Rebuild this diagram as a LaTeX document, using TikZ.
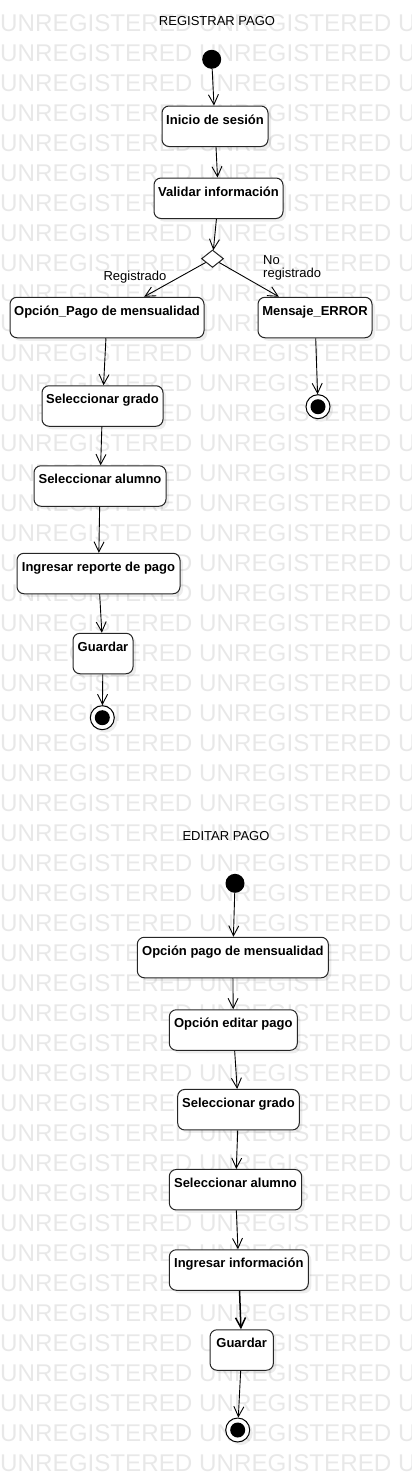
\documentclass[tikz,border=0pt]{standalone}
\usepackage{fontspec}
\setmainfont{Liberation Sans}
\usetikzlibrary{arrows.meta,shapes.geometric,shadows}
\begin{document}
\begin{tikzpicture}[x=1pt,y=-1pt,
  wm/.style={anchor=base west, inner sep=0pt, text=black!9, font=\fontsize{24.2}{26}\selectfont},
  ttl/.style={anchor=base, inner sep=0pt, font=\fontsize{13}{15}\selectfont},
  lbl/.style={inner sep=0pt, font=\fontsize{13}{13}\selectfont},
  act/.style={draw=black!85, line width=1pt, rounded corners=7pt, fill=white,
    font=\fontsize{13}{15}\selectfont\bfseries, inner xsep=3pt, inner ysep=0pt,
    text height=18pt, text depth=22.5pt, minimum height=40.5pt,
    drop shadow={shadow xshift=3pt, shadow yshift=-3pt, fill=black, opacity=0.07}},
  initnode/.style={circle, fill=black, minimum size=19pt, inner sep=0pt},
  finalnode/.style={circle, draw=black, line width=1pt, fill=white, minimum size=24pt, inner sep=0pt,
    drop shadow={shadow xshift=3pt, shadow yshift=-3pt, fill=black, opacity=0.07},
    path picture={\fill[black] (path picture bounding box.center) circle (7.5pt);}},
  decision/.style={diamond, draw=black!85, line width=1pt, fill=white, minimum width=22pt, minimum height=17.5pt, inner sep=0pt},
  flow/.style={draw=black, line width=0.9pt, -{Straight Barb[length=10pt,width=10pt]}}
]
\useasboundingbox (0,0) rectangle (412,1483);
\begin{scope}
\clip (0,0) rectangle (412,1483);
\foreach \k in {0,...,48}{
  \node[wm] (wm\k) at (0,{31.5+30*\k}) {UNREGISTERED UNREGISTERED U};
}
\end{scope}

% ---------- REGISTRAR PAGO ----------
\node[ttl] (t1) at (217,25) {REGISTRAR PAGO};
\node[initnode] (i1) at (211.7,59.3) {};
\node[act, minimum width=106pt] (inicio) at (215,126.25) {Inicio de sesión};
\node[act, minimum width=129pt] (validar) at (218.5,198.25) {Validar información};
\node[decision] (dec) at (212.5,258.7) {};
\node[act, minimum width=194pt] (opcion) at (107,317.5) {Opción\_Pago de mensualidad};
\node[act, minimum width=114pt] (error) at (315,317.5) {Mensaje\_ERROR};
\node[finalnode] (f0) at (318,406.7) {};
\node[act, minimum width=121pt] (grado1) at (102.5,406) {Seleccionar grado};
\node[act, minimum width=132pt] (alumno1) at (100,486) {Seleccionar alumno};
\node[act, minimum width=163pt] (reporte) at (98.5,573.5) {Ingresar reporte de pago};
\node[act, minimum width=60pt] (guardar1) at (103,653.5) {Guardar};
\node[finalnode] (f1) at (102.3,717.7) {};

\node[lbl, anchor=base] (lreg) at (135,280.5) {Registrado};
\node[lbl, anchor=base west] (lno1) at (263,264.5) {No};
\node[lbl, anchor=base west] (lno2) at (263,277.5) {registrado};

\draw[flow] (i1) -- (inicio);
\draw[flow] (inicio) -- (validar);
\draw[flow] (validar) -- (dec);
\draw[flow] (dec) -- (opcion);
\draw[flow] (dec) -- (error);
\draw[flow] (error) -- (f0);
\draw[flow] (opcion) -- (grado1);
\draw[flow] (grado1) -- (alumno1);
\draw[flow] (alumno1) -- (reporte);
\draw[flow] (reporte) -- (guardar1);
\draw[flow] (guardar1) -- (f1);

% ---------- EDITAR PAGO ----------
\node[ttl] (t2) at (226,840.7) {EDITAR PAGO};
\node[initnode] (i2) at (235,883.3) {};
\node[act, minimum width=191pt] (opcion2) at (232.8,957.5) {Opción pago de mensualidad};
\node[act, minimum width=128pt] (editar) at (233.3,1030) {Opción editar pago};
\node[act, minimum width=121.6pt] (grado2) at (238.5,1109.7) {Seleccionar grado};
\node[act, minimum width=132.4pt] (alumno2) at (235.5,1189.7) {Seleccionar alumno};
\node[act, minimum width=139pt] (info) at (238.8,1270) {Ingresar información};
\node[act, minimum width=63.3pt] (guardar2) at (241.7,1350) {Guardar};
\node[finalnode] (f2) at (237.7,1430) {};

\draw[flow] (i2) -- (opcion2);
\draw[flow] (opcion2) -- (editar);
\draw[flow] (editar) -- (grado2);
\draw[flow] (grado2) -- (alumno2);
\draw[flow] (alumno2) -- (info);
\draw[flow, line width=1.5pt] (info) -- (guardar2);
\draw[flow] (guardar2) -- (f2);
\end{tikzpicture}
\end{document}
